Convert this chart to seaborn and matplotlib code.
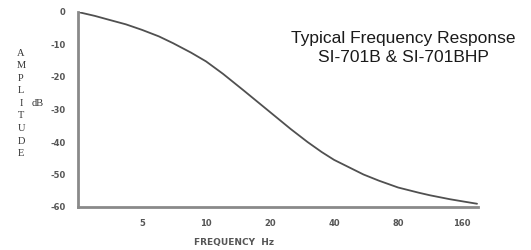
"""
plot.py
Typical frequency response curve, SI-701B & SI-701BHP.
"""

import matplotlib
matplotlib.use('Agg')
import matplotlib.pyplot as plt
import pandas as pd
import seaborn as sns

# ─── DATA ────────────────────────────────────────────────────────────────
freq_hz = [2.5, 3, 3.5, 4.2, 5, 6, 7, 8.5, 10, 12, 15, 20, 25, 30, 35,
           40, 55, 65, 80, 100, 113, 140, 162, 188]
amplitude_db = [0, -1.2, -2.4, -3.8, -5.5, -7.5, -9.6, -12.5, -15.2,
                -19.0, -24.1, -30.8, -36.0, -40.0, -43.1, -45.5, -50.0,
                -51.9, -54.0, -55.6, -56.4, -57.6, -58.3, -59.0]

x_ticks = [5, 10, 20, 40, 80, 160]
x_tick_labels = ['5', '10', '20', '40', '80', '160']
y_ticks = [0, -10, -20, -30, -40, -50, -60]
y_tick_labels = ['0', '-10', '-20', '-30', '-40', '-50', '-60']

AXIS_GREY = '#8a8a8a'
TEXT_GREY = '#555555'


def main():
    sns.set_style('white')
    fig = plt.figure(figsize=(5.31, 2.5), dpi=100)
    ax = fig.add_axes([78 / 531, 1 - 207 / 250, 400 / 531, 195 / 250])

    df = pd.DataFrame({'freq': freq_hz, 'db': amplitude_db})
    sns.lineplot(data=df, x='freq', y='db', ax=ax, color='#505050',
                 linewidth=1.3, sort=True)

    ax.set_xscale('log', base=2)
    ax.set_xlim(2.5, 190)
    ax.set_ylim(-60, 0)

    ax.set_xticks(x_ticks)
    ax.set_xticklabels(x_tick_labels)
    ax.minorticks_off()
    ax.set_yticks(y_ticks)
    ax.set_yticklabels(y_tick_labels)

    ax.tick_params(axis='both', direction='out', length=5, width=1,
                   color=AXIS_GREY, labelcolor=TEXT_GREY, labelsize=6)
    ax.tick_params(axis='x', pad=4)
    ax.tick_params(axis='y', pad=4)
    for lbl in ax.get_xticklabels() + ax.get_yticklabels():
        lbl.set_fontweight('bold')

    sns.despine(ax=ax)
    for side in ('left', 'bottom'):
        ax.spines[side].set_color(AXIS_GREY)
        ax.spines[side].set_linewidth(2)

    ax.set_xlabel('')
    ax.set_ylabel('')

    # FREQUENCY Hz
    fig.text(234 / 531, 1 - 243 / 250, 'FREQUENCY  Hz', ha='center',
             va='center', fontsize=6.5, color=TEXT_GREY, fontweight='bold')

    # vertical AMPLITUDE label + dB
    for i, ch in enumerate('AMPLITUDE'):
        fig.text(21 / 531, 1 - (53 + i * 12.6) / 250, ch, ha='center',
                 va='center', fontsize=7.5, family='Liberation Serif',
                 color='#333333')
    fig.text(38 / 531, 1 - 104 / 250, 'dB', ha='center', va='center',
             fontsize=7.5, family='Liberation Serif', color='#333333')

    # title block
    fig.text(403 / 531, 1 - 38 / 250, 'Typical Frequency Response',
             ha='center', va='center', fontsize=12.5,
             family='Liberation Sans', color='#1a1a1a')
    fig.text(403 / 531, 1 - 57 / 250, 'SI-701B & SI-701BHP',
             ha='center', va='center', fontsize=12.5,
             family='Liberation Sans', color='#1a1a1a')

    fig.savefig('out.png', dpi=100)


if __name__ == '__main__':
    main()
